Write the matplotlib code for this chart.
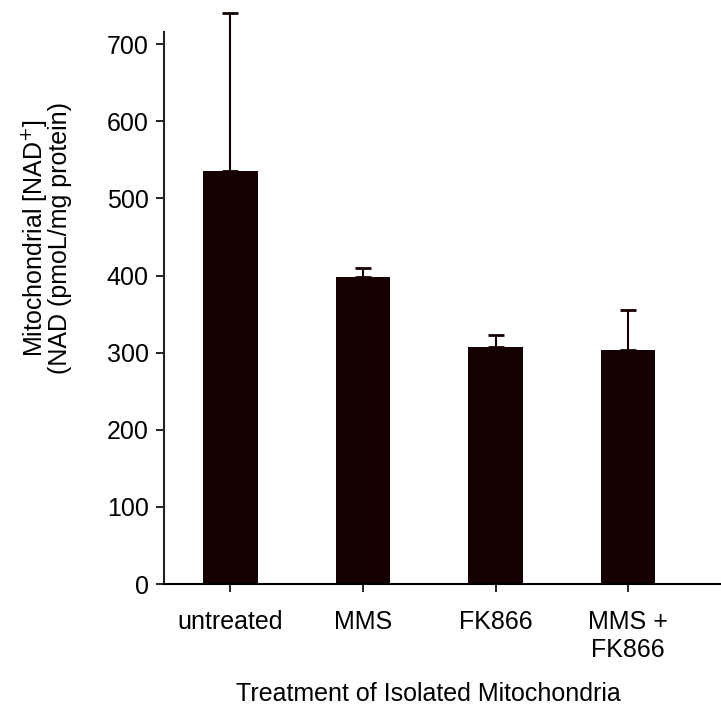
import numpy as np
from matplotlib import pyplot as plt

plt.rcParams['font.family'] = ['Liberation Sans', 'DejaVu Sans']

# values
treatments = ['untreated', 'MMS', 'FK866', 'MMS +\nFK866']
nad = [535, 398, 307, 303]
err = [205, 12, 16, 52]
yticks = [0, 100, 200, 300, 400, 500, 600, 700]

fig = plt.figure(figsize=(7.21, 7.08), dpi=100)
ax = fig.add_axes([0.2275, 0.175, 0.7725, 0.78])

x = np.arange(len(treatments))
ax.bar(x, nad, width=0.41, color='#140000', zorder=2)
ax.errorbar(x, nad, yerr=[np.zeros(len(err)), err], fmt='none',
            ecolor='#140000', elinewidth=1.5, capsize=6, capthick=2,
            clip_on=False, zorder=3)

fs = 18
ax.set_xlim(-0.5, 3.7)
ax.set_ylim(0, 716)
ax.set_yticks(yticks)
ax.set_xticks(x)
ax.set_xticklabels(treatments, fontsize=fs, linespacing=1.2)
ax.tick_params(axis='y', labelsize=fs, direction='out', length=6, width=1.2, pad=5)
ax.tick_params(axis='x', direction='out', length=6, width=1.2, pad=13)

for s in ['top', 'right']:
    ax.spines[s].set_visible(False)
ax.spines['left'].set_linewidth(1.5)
ax.spines['bottom'].set_linewidth(1.5)
ax.spines['left'].set_color('#222222')

ax.set_ylabel('Mitochondrial [NAD$^{+}$]\n(NAD (pmoL/mg protein)', fontsize=fs,
              linespacing=0.95)
ax.yaxis.set_label_coords(-0.165, 0.627)
ax.set_xlabel('Treatment of Isolated Mitochondria', fontsize=fs)
ax.xaxis.set_label_coords(0.474, -0.178)

plt.savefig('out.png', dpi=100)
